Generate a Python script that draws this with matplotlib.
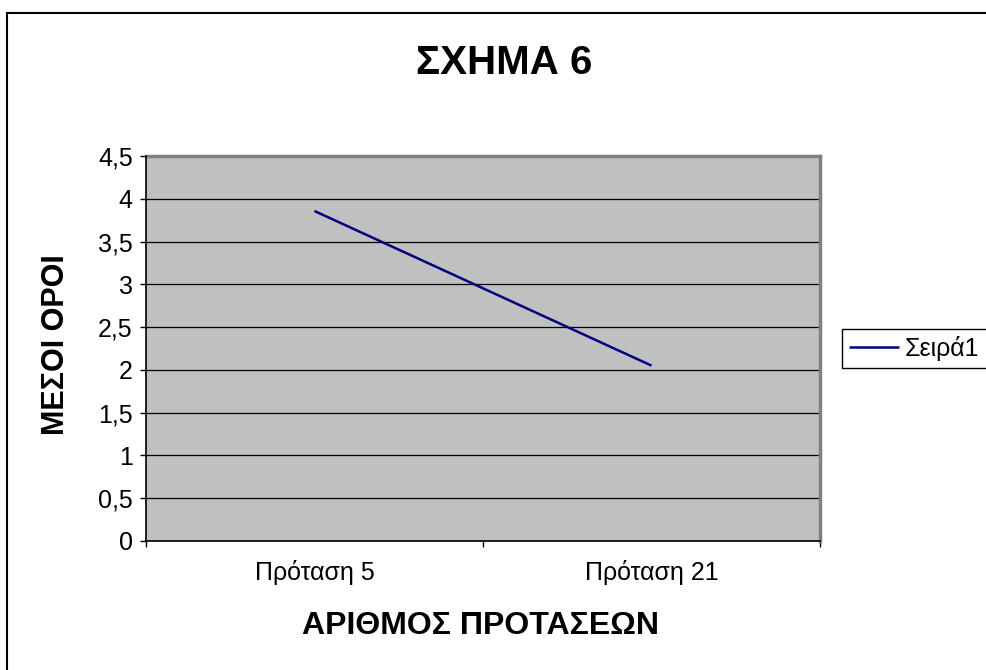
import matplotlib
matplotlib.use("Agg")
import matplotlib.pyplot as plt
from matplotlib.lines import Line2D

plt.rcParams['font.family'] = ['Liberation Sans', 'DejaVu Sans']

categories = ["Πρόταση 5", "Πρόταση 21"]
values = [3.857, 2.05]
series_name = "Σειρά1"
y_ticks = [0, 0.5, 1, 1.5, 2, 2.5, 3, 3.5, 4, 4.5]
y_tick_labels = ["0", "0,5", "1", "1,5", "2", "2,5", "3", "3,5", "4", "4,5"]

W, H = 986, 670
fig = plt.figure(figsize=(W / 100, H / 100), dpi=100)
fig.patch.set_facecolor("white")

# chart area border (top and left edges visible)
fig.add_artist(Line2D([7 / W, 7 / W], [0, 1 - 13 / H], transform=fig.transFigure,
                      color="black", lw=1.5))
fig.add_artist(Line2D([7 / W, 1], [1 - 13 / H, 1 - 13 / H], transform=fig.transFigure,
                      color="black", lw=1.5))

left, right, top, bottom = 146, 820, 156, 541
ax = fig.add_axes([left / W, 1 - bottom / H, (right - left) / W, (bottom - top) / H])
ax.set_facecolor("#C0C0C0")

x = [i + 0.5 for i in range(len(categories))]
ax.plot(x, values, color="#000080", lw=1.8, label=series_name, solid_capstyle="butt")

ax.set_xlim(0, len(categories))
ax.set_ylim(0, 4.5)
ax.set_yticks(y_ticks)
ax.set_yticklabels(y_tick_labels, fontsize=18)
ax.set_xticks(range(len(categories) + 1))
ax.set_xticklabels([])
ax.set_xticks(x, minor=True)
ax.set_xticklabels(categories, minor=True, fontsize=18)
ax.tick_params(axis="x", which="minor", length=0, pad=14)
ax.tick_params(axis="x", which="major", length=4.5, width=1, direction="out")
ax.tick_params(axis="y", length=4.5, width=1, direction="out", pad=5)

ax.grid(axis="y", color="black", lw=0.9)
ax.set_axisbelow(True)

for s in ("top", "right"):
    ax.spines[s].set_color("#808080")
    ax.spines[s].set_linewidth(2.5)
for s in ("left", "bottom"):
    ax.spines[s].set_color("black")
    ax.spines[s].set_linewidth(1.2)
    ax.spines[s].set_zorder(5)

fig.text(504 / W, 1 - 63 / H, "ΣΧΗΜΑ 6", fontsize=29, fontweight="bold",
         ha="center", va="center")
fig.text(481 / W, 1 - 626 / H, "ΑΡΙΘΜΟΣ ΠΡΟΤΑΣΕΩΝ", fontsize=23, fontweight="bold",
         ha="center", va="center")
fig.text(56 / W, 1 - 345 / H, "ΜΕΣΟΙ ΟΡΟΙ", fontsize=22, fontweight="bold",
         ha="center", va="center", rotation=90)

leg = fig.legend(loc="upper left", bbox_to_anchor=(842 / W, 1 - 329 / H),
                 bbox_transform=fig.transFigure, borderaxespad=0, fontsize=18,
                 frameon=True, fancybox=False, edgecolor="black", framealpha=1,
                 handlelength=2.0, handletextpad=0.24, borderpad=0.28)
leg.get_frame().set_linewidth(1.0)

fig.savefig("out.png", dpi=100, facecolor="white")
